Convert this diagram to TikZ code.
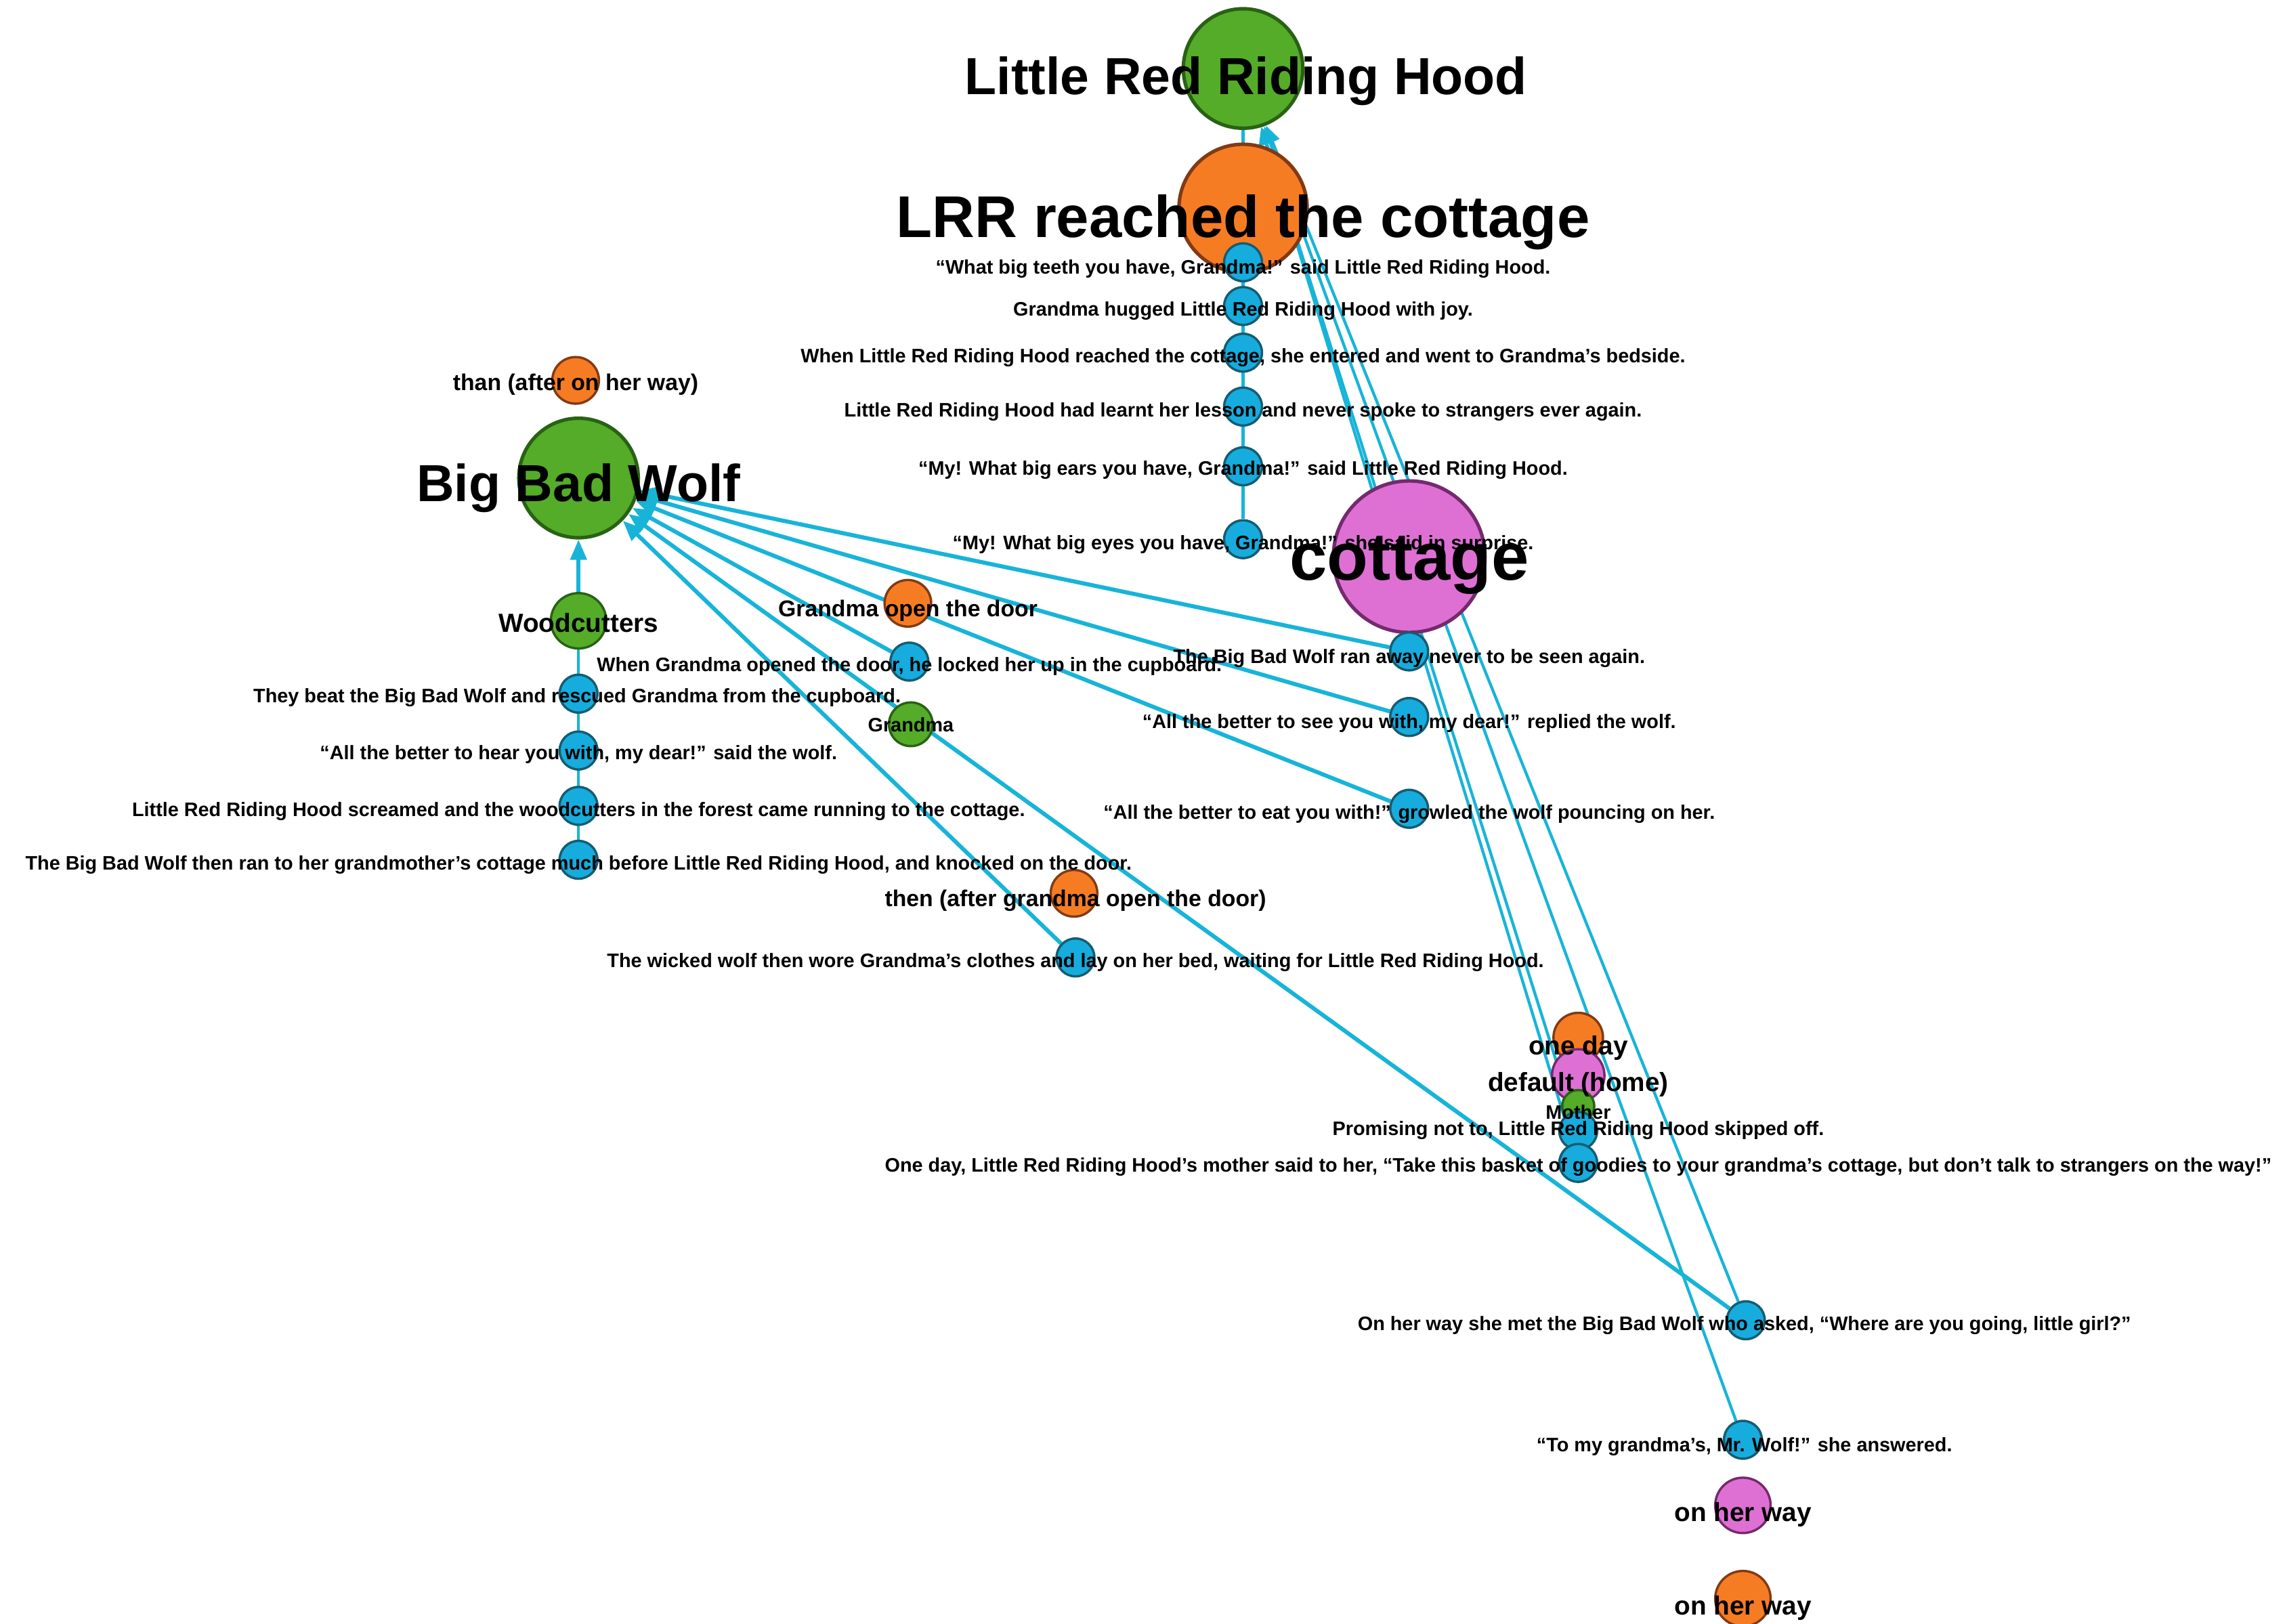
\documentclass[tikz,border=0pt]{standalone}
\usepackage{fontspec}
\setmainfont{Liberation Sans}
\usetikzlibrary{arrows.meta}
\pgfdeclarelayer{bg}
\pgfsetlayers{bg,main}

\definecolor{edgecyan}{RGB}{24,180,216}
\definecolor{evfill}{RGB}{22,172,222}
\definecolor{evline}{RGB}{22,92,112}
\definecolor{grfill}{RGB}{84,172,40}
\definecolor{grline}{RGB}{40,98,20}
\definecolor{orfill}{RGB}{246,124,36}
\definecolor{orline}{RGB}{130,58,20}
\definecolor{pkfill}{RGB}{222,112,212}
\definecolor{pkline}{RGB}{116,42,108}

% label font sizes
\newcommand\lblEv{\fontsize{6.7pt}{8pt}\selectfont\bfseries}
\newcommand\lblSm{\fontsize{7.85pt}{9pt}\selectfont\bfseries}
\newcommand\lblMd{\fontsize{9pt}{10pt}\selectfont\bfseries}

\begin{document}
\begin{tikzpicture}[x=0.5pt,y=-0.5pt,
  dot/.style={circle,inner sep=0pt,line width=0.8pt},
  ev/.style={dot,fill=evfill,draw=evline,minimum size=13pt},
  green/.style={dot,fill=grfill,draw=grline},
  orange/.style={dot,fill=orfill,draw=orline},
  pink/.style={dot,fill=pkfill,draw=pkline},
  lab/.style={anchor=base,inner sep=0pt},
  chain/.style={draw=edgecyan,line width=1pt},
  wolfarrow/.style={draw=edgecyan,line width=1.4pt,-{Triangle[length=7pt,width=5.5pt]}},
  hoodarrow/.style={draw=edgecyan,line width=1pt,-{Triangle[length=6pt,width=5pt]}}]

\useasboundingbox (0,0) rectangle (1568,1114);

% ---- entity nodes ----
\node[green,minimum size=41pt,line width=1.2pt] (lrrh) at (853,47) {};
\node[orange,minimum size=44pt,line width=1.2pt] (lrr) at (853,143) {};
\node[green,minimum size=41pt,line width=1.2pt] (bbw) at (397,328) {};
\node[pink,minimum size=52pt,line width=1.2pt] (cot) at (967,382) {};
\node[green,minimum size=19pt] (woodc) at (397,426) {};
\node[orange,minimum size=16pt] (gopen) at (623,414) {};
\node[green,minimum size=15pt] (gma) at (625,497) {};
\node[orange,minimum size=16pt] (than) at (395,261) {};
\node[orange,minimum size=16pt] (then) at (737,613) {};
\node[orange,minimum size=17pt] (oneday) at (1083,712) {};
\node[pink,minimum size=18pt] (home) at (1083,738) {};
\node[green,minimum size=11pt] (mother) at (1083,759) {};
\node[pink,minimum size=19pt] (way1) at (1196,1033) {};
\node[orange,minimum size=19pt] (way2) at (1196,1097) {};

% ---- event nodes ----
\node[ev] (b1) at (853,180) {};
\node[ev] (b2) at (853,210) {};
\node[ev] (b3) at (853,242) {};
\node[ev] (b4) at (853,279) {};
\node[ev] (b5) at (853,320) {};
\node[ev] (b6) at (853,370) {};
\node[ev] (c1) at (967,447) {};
\node[ev] (c2) at (967,492) {};
\node[ev] (c3) at (967,555) {};
\node[ev] (w1) at (397,476) {};
\node[ev] (w2) at (397,515) {};
\node[ev] (w3) at (397,553) {};
\node[ev] (w4) at (397,590) {};
\node[ev] (g1) at (624,454) {};
\node[ev] (t1) at (738,657) {};
\node[ev] (m1) at (1083,776) {};
\node[ev] (m2) at (1083,798) {};
\node[ev] (o1) at (1198,906) {};
\node[ev] (o2) at (1196,988) {};

% ---- connectors ----
\begin{pgfonlayer}{bg}
\draw[chain] (b6) -- (lrrh);
\draw[chain] (w4) -- (woodc);
\draw[chain] (m2) -- (oneday);
\draw[wolfarrow] (woodc) -- (bbw);
\foreach \s in {c1,c2,c3,g1,t1,o1} \draw[wolfarrow] (\s) -- (bbw);
\foreach \s in {m2,m1,o2,o1} \draw[hoodarrow] (\s) -- (lrrh);
\end{pgfonlayer}

% ---- labels ----
\node[lab,font=\fontsize{17.9pt}{20pt}\selectfont\bfseries] (lrrh-t) at (855,65) {Little Red Riding Hood};
\node[lab,font=\fontsize{20.2pt}{22pt}\selectfont\bfseries] (lrr-t) at (853,163) {LRR reached the cottage};
\node[lab,font=\fontsize{17.9pt}{20pt}\selectfont\bfseries] (bbw-t) at (397,344) {Big Bad Wolf};
\node[lab,font=\fontsize{23.1pt}{25pt}\selectfont\bfseries] (cot-t) at (967,398) {cottage};
\node[lab,font=\lblMd] (woodc-t) at (397,434) {Woodcutters};
\node[lab,font=\lblSm] (gopen-t) at (623,423) {Grandma open the door};
\node[lab,font=\lblEv] (gma-t) at (625,502) {Grandma};
\node[lab,font=\lblSm] (than-t) at (395,268) {than (after on her way)};
\node[lab,font=\lblSm] (then-t) at (738,622) {then (after grandma open the door)};
\node[lab,font=\lblMd] (oneday-t) at (1083,724) {one day};
\node[lab,font=\lblMd] (home-t) at (1083,749) {default (home)};
\node[lab,font=\lblEv] (mother-t) at (1083,768) {Mother};
\node[lab,font=\lblMd] (way1-t) at (1196,1044) {on her way};
\node[lab,font=\lblMd] (way2-t) at (1196,1108) {on her way};

\node[lab,font=\lblEv] (b1-t) at (853,188) {“What big teeth you have, Grandma!” said Little Red Riding Hood.};
\node[lab,font=\lblEv] (b2-t) at (853,217) {Grandma hugged Little Red Riding Hood with joy.};
\node[lab,font=\lblEv] (b3-t) at (853,249) {When Little Red Riding Hood reached the cottage, she entered and went to Grandma's bedside.};
\node[lab,font=\lblEv] (b4-t) at (853,286) {Little Red Riding Hood had learnt her lesson and never spoke to strangers ever again.};
\node[lab,font=\lblEv] (b5-t) at (853,326) {“My! What big ears you have, Grandma!” said Little Red Riding Hood.};
\node[lab,font=\lblEv] (b6-t) at (853,377) {“My! What big eyes you have, Grandma!” she said in surprise.};
\node[lab,font=\lblEv] (c1-t) at (967,455) {The Big Bad Wolf ran away never to be seen again.};
\node[lab,font=\lblEv] (c2-t) at (967,500) {“All the better to see you with, my dear!” replied the wolf.};
\node[lab,font=\lblEv] (c3-t) at (967,562) {“All the better to eat you with!” growled the wolf pouncing on her.};
\node[lab,font=\lblEv] (w1-t) at (396,482) {They beat the Big Bad Wolf and rescued Grandma from the cupboard.};
\node[lab,font=\lblEv] (w2-t) at (397,521) {“All the better to hear you with, my dear!” said the wolf.};
\node[lab,font=\lblEv] (w3-t) at (397,560) {Little Red Riding Hood screamed and the woodcutters in the forest came running to the cottage.};
\node[lab,font=\lblEv] (w4-t) at (397,597) {The Big Bad Wolf then ran to her grandmother's cottage much before Little Red Riding Hood, and knocked on the door.};
\node[lab,font=\lblEv] (g1-t) at (624,461) {When Grandma opened the door, he locked her up in the cupboard.};
\node[lab,font=\lblEv] (t1-t) at (738,664) {The wicked wolf then wore Grandma's clothes and lay on her bed, waiting for Little Red Riding Hood.};
\node[lab,font=\lblEv] (m1-t) at (1083,779) {Promising not to, Little Red Riding Hood skipped off.};
\node[lab,font=\lblEv] (m2-t) at (1083,804) {One day, Little Red Riding Hood's mother said to her, “Take this basket of goodies to your grandma's cottage, but don't talk to strangers on the way!”};
\node[lab,font=\lblEv] (o1-t) at (1197,913) {On her way she met the Big Bad Wolf who asked, “Where are you going, little girl?”};
\node[lab,font=\lblEv] (o2-t) at (1197,996) {“To my grandma's, Mr. Wolf!” she answered.};

\end{tikzpicture}
\end{document}
